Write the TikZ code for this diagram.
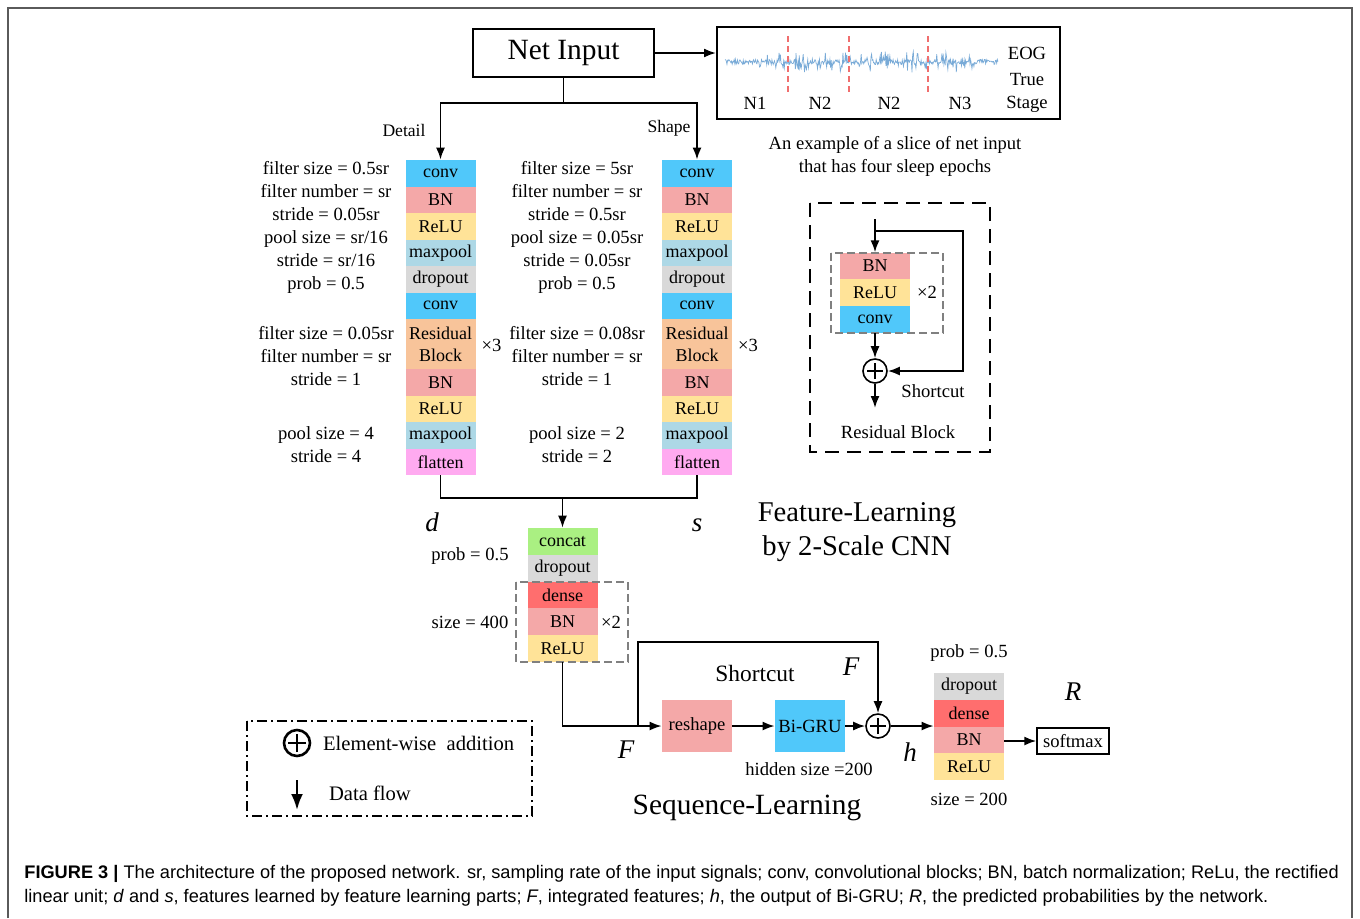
\documentclass[tikz,border=0pt]{standalone}
\usepackage{fontspec}
\setmainfont{Liberation Serif}
\newfontfamily\capfont{Liberation Sans}
\usetikzlibrary{arrows.meta,positioning}

\definecolor{convc}{RGB}{80,200,250}
\definecolor{bnc}{RGB}{244,168,168}
\definecolor{reluc}{RGB}{255,227,152}
\definecolor{poolc}{RGB}{173,216,230}
\definecolor{dropc}{RGB}{217,217,217}
\definecolor{resc}{RGB}{248,196,154}
\definecolor{flatc}{RGB}{255,170,240}
\definecolor{concatc}{RGB}{170,240,130}
\definecolor{densec}{RGB}{255,110,110}
\definecolor{wavec}{RGB}{120,170,215}
\definecolor{cutc}{RGB}{240,110,110}
\definecolor{framec}{RGB}{90,90,90}

\tikzset{
  layer/.style={inner sep=0pt, minimum width=35pt, minimum height=13.25pt,
    font=\fontsize{9}{10}\selectfont},
  param/.style={align=center, font=\fontsize{9.3}{11.5}\selectfont},
  small/.style={font=\fontsize{9.3}{11}\selectfont},
  var/.style={font=\fontsize{13.5}{15}\selectfont\itshape},
  addnode/.style={circle, draw, line width=0.8pt, minimum size=12pt, inner sep=0pt,
    path picture={\draw[line width=0.8pt]
      ([xshift=-4pt]path picture bounding box.center) -- ([xshift=4pt]path picture bounding box.center)
      ([yshift=-4pt]path picture bounding box.center) -- ([yshift=4pt]path picture bounding box.center);}},
  flow/.style={line width=0.9pt},
  graybox/.style={gray, line width=0.7pt, dash pattern=on 4pt off 2pt},
}

\begin{document}
\begin{tikzpicture}[x=0.5pt, y=-0.5pt, >={Latex[length=6pt,width=4.5pt]}]
  \useasboundingbox (0,0) rectangle (1360,918);
  \draw[framec, line width=0.8pt] (8,918) -- (8,8) -- (1352,8) -- (1352,918);

  % input and example slice
  \node[draw, line width=1pt, minimum width=90.5pt, minimum height=24pt,
        font=\fontsize{14.7}{16}\selectfont] (net) at (563.5,53) {Net Input};
  \node[draw, line width=1pt, minimum width=171.5pt, minimum height=46pt] (eog) at (888.5,73) {};
  \pgfmathsetseed{5}
  \draw[wavec, line width=0.35pt] plot[domain=725:998, samples=420, variable=\t]
        (\t, {62 + (2.5 + 8*(rnd>0.7)*(\t>750)*(\t<975))*rand});
  \foreach \x in {788,849,928}
    \draw[cutc, line width=0.8pt, dash pattern=on 3pt off 2pt] (\x,36) -- (\x,93);
  \node[small] (e1) at (755,103) {N1};
  \node[small] (e2) at (820,103) {N2};
  \node[small] (e3) at (889,103) {N2};
  \node[small] (e4) at (960,103) {N3};
  \node[small] (eogl) at (1027,53) {EOG};
  \node[param] (stage) at (1027,93) {True\\Stage};
  \node[param] (slice) at (895,156) {An example of a slice of net input\\that has four sleep epochs};
  \draw[flow, ->] (net.east) -- (net.east -| eog.west);

  % two cnn branches
  \foreach \stk/\x in {d/440.5, s/697}{
    \node[layer, fill=convc] (\stk1) at (\x,173.25) {conv};
    \node[layer, fill=bnc] (\stk2) at (\x,199.75) {BN};
    \node[layer, fill=reluc] (\stk3) at (\x,226.25) {ReLU};
    \node[layer, fill=poolc] (\stk4) at (\x,252.75) {maxpool};
    \node[layer, fill=dropc] (\stk5) at (\x,279.25) {dropout};
    \node[layer, fill=convc] (\stk6) at (\x,305.75) {conv};
    \node[layer, fill=resc, minimum height=25pt, align=center,
          font=\fontsize{9}{11}\selectfont] (\stk7) at (\x,344) {Residual\\Block};
    \node[layer, fill=bnc] (\stk8) at (\x,382.25) {BN};
    \node[layer, fill=reluc] (\stk9) at (\x,408.75) {ReLU};
    \node[layer, fill=poolc] (\stk10) at (\x,435.25) {maxpool};
    \node[layer, fill=flatc] (\stk11) at (\x,461.75) {flatten};
    \node[small] (\stk x3) at (\x+51,345) {×3};
  }
  \node[font=\fontsize{8.8}{10}\selectfont] (detail) at (404,130) {Detail};
  \node[font=\fontsize{8.8}{10}\selectfont] (shape) at (669,128) {Shape};

  \node[param] (dpar1) at (326,227.5) {filter size = 0.5sr\\filter number = sr\\stride = 0.05sr\\pool size = sr/16\\stride = sr/16\\prob = 0.5};
  \node[param] (dpar2) at (326,356) {filter size = 0.05sr\\filter number = sr\\stride = 1};
  \node[param] (dpar3) at (326,445) {pool size = 4\\stride = 4};
  \node[param] (spar1) at (577,227.5) {filter size = 5sr\\filter number = sr\\stride = 0.5sr\\pool size = 0.05sr\\stride = 0.05sr\\prob = 0.5};
  \node[param] (spar2) at (577,356) {filter size = 0.08sr\\filter number = sr\\stride = 1};
  \node[param] (spar3) at (577,445) {pool size = 2\\stride = 2};

  \coordinate (split) at (563.5,103);
  \draw[flow] (net) -- (split);
  \draw[flow, ->] (split) -| (d1.north);
  \draw[flow, ->] (split) -| (s1.north);

  % merge
  \node[layer, fill=concatc, minimum height=13.4pt] (c1) at (562.5,541.5) {concat};
  \node[layer, fill=dropc, minimum height=13.4pt] (c2) at (562.5,568.5) {dropout};
  \node[layer, fill=densec, minimum height=13.4pt] (c3) at (562.5,595) {dense};
  \node[layer, fill=bnc, minimum height=13.4pt] (c4) at (562.5,621.5) {BN};
  \node[layer, fill=reluc, minimum height=13.4pt] (c5) at (562.5,648.5) {ReLU};
  \draw[graybox] (516,582) rectangle (628,662);
  \node[small] (cx2) at (611,622) {×2};
  \node[small] (cprob) at (470,556) {prob = 0.5};
  \node[small] (csize) at (470,622) {size = 400};
  \node[var] (dvar) at (432,522) {d};
  \node[var] (svar) at (697,525) {s};

  \coordinate (merge) at (562.5,498);
  \draw[flow] (d11.south) |- (merge) -| (s11.south);
  \draw[flow, ->] (merge) -- (c1.north);

  \node[font=\fontsize{14.3}{17}\selectfont, align=center] (fltitle) at (857,532)
        {Feature-Learning\\by 2-Scale CNN};

  % residual block inset
  \draw[line width=0.8pt, dash pattern=on 7pt off 4pt] (810,203) rectangle (990,452);
  \node[layer, fill=bnc] (rb1) at (875,266) {BN};
  \node[layer, fill=reluc] (rb2) at (875,292.5) {ReLU};
  \node[layer, fill=convc] (rb3) at (875,319.5) {conv};
  \draw[graybox] (831,253) rectangle (943,333);
  \node[small] (rx2) at (927,292) {×2};
  \node[addnode] (radd) at (875,371) {};
  \coordinate (rtop) at (875,219);
  \coordinate (rfork) at (875,231);
  \coordinate (rcorner) at (963,231);
  \coordinate (rout) at (875,408);
  \draw[flow, ->] (rtop) -- (rb1.north);
  \draw[flow, ->] (rfork) -- (rcorner) |- (radd.east);
  \draw[flow, ->] (rb3.south) -- (radd.north);
  \draw[flow, ->] (radd.south) -- (rout);
  \node[small] (rshort) at (933,391) {Shortcut};
  \node[small] (rlabel) at (898,432) {Residual Block};

  % sequence learning
  \node[inner sep=0pt, minimum width=35pt, minimum height=26pt, fill=bnc,
        font=\fontsize{9.3}{10}\selectfont] (reshape) at (697,726) {reshape};
  \node[inner sep=0pt, minimum width=35pt, minimum height=26pt, fill=convc,
        font=\fontsize{9.3}{10}\selectfont] (bigru) at (810,726) {Bi-GRU};
  \node[addnode] (add) at (878,726) {};
  \node[layer, fill=dropc] (r1) at (969,686.5) {dropout};
  \node[layer, fill=densec] (r2) at (969,713.25) {dense};
  \node[layer, fill=bnc] (r3) at (969,739.75) {BN};
  \node[layer, fill=reluc] (r4) at (969,766.5) {ReLU};
  \node[draw, line width=0.7pt, inner sep=0pt, minimum width=36pt, minimum height=13pt,
        font=\fontsize{9.3}{10}\selectfont] (softmax) at (1073,741) {softmax};

  \coordinate (fork) at (638,726);
  \coordinate (sctop) at (638,642);
  \draw[flow, ->] (c5.south) |- (reshape.west);
  \draw[flow, ->] (fork) -- (sctop) -| (add.north);
  \draw[flow, ->] (reshape) -- (bigru);
  \draw[flow, ->] (bigru) -- (add);
  \draw[flow, ->] (add.east) -- (add.east -| r1.west);
  \draw[flow, ->] (r3.east |- softmax.west) -- (softmax.west);

  \node[font=\fontsize{11.7}{13}\selectfont] (short) at (755,673) {Shortcut};
  \node[var] (fvar1) at (851,667) {F};
  \node[var] (fvar2) at (626,750) {F};
  \node[var] (hvar) at (910,752) {h};
  \node[var] (rvar) at (1073,692) {R};
  \node[small] (hidden) at (809,769) {hidden size =200};
  \node[small] (rprob) at (969,653) {prob = 0.5};
  \node[small] (rsize) at (969,799) {size = 200};
  \node[font=\fontsize{14.7}{17}\selectfont] (sltitle) at (747,808) {Sequence-Learning};

  % legend
  \draw[line width=0.9pt, dash pattern=on 5pt off 2pt on 1pt off 2pt] (247,721) rectangle (532,816);
  \node[addnode, line width=1.3pt, minimum size=13pt,
        path picture={\draw[line width=1.3pt]
          ([xshift=-4.5pt]path picture bounding box.center) -- ([xshift=4.5pt]path picture bounding box.center)
          ([yshift=-4.5pt]path picture bounding box.center) -- ([yshift=4.5pt]path picture bounding box.center);}]
        (lplus) at (297,743) {};
  \node[anchor=west, font=\fontsize{10.3}{12}\selectfont] (ladd) at (316,743) {Element-wise\ \ addition};
  \coordinate (la1) at (297,780);
  \coordinate (la2) at (297,810);
  \draw[line width=1.2pt, -{Latex[length=8pt,width=6pt]}] (la1) -- (la2);
  \node[anchor=west, font=\fontsize{10.3}{12}\selectfont] (lflow) at (322,793) {Data flow};

  % caption
  \node[anchor=west, inner sep=0pt, font=\capfont\fontsize{9.1}{10}\selectfont] (cap1) at (24,874)
    {\textbf{FIGURE 3 |} The architecture of the proposed network. sr, sampling rate of the input signals; conv, convolutional blocks; BN, batch normalization; ReLu, the rectified};
  \node[anchor=west, inner sep=0pt, font=\capfont\fontsize{9.1}{10}\selectfont] (cap2) at (24,898)
    {linear unit; \textit{d} and \textit{s}, features learned by feature learning parts; \textit{F}, integrated features; \textit{h}, the output of Bi-GRU; \textit{R}, the predicted probabilities by the network.};
\end{tikzpicture}
\end{document}
